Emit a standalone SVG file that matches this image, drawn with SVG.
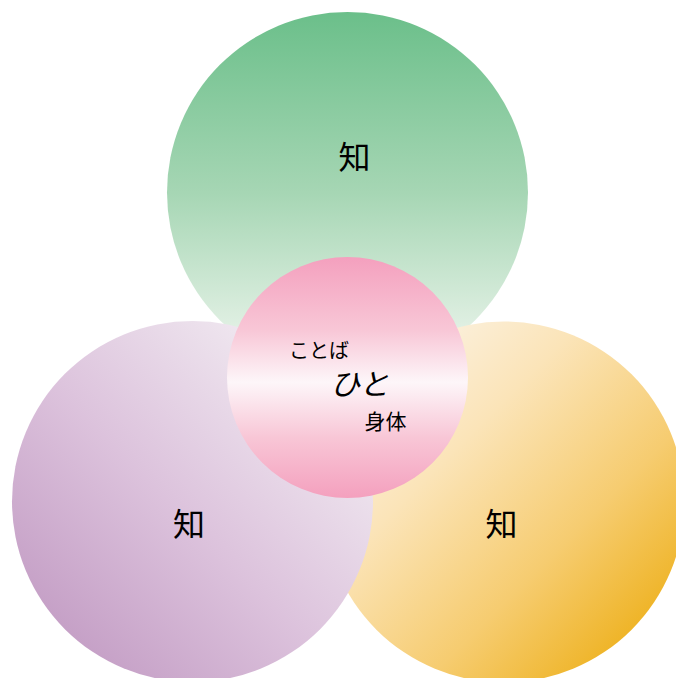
<svg xmlns="http://www.w3.org/2000/svg" width="676" height="678" viewBox="0 0 676 678">
<style>
.t{font-family:"Noto Sans CJK JP","Noto Sans",sans-serif;fill:#000;text-anchor:middle}
</style>
<defs>
<linearGradient id="gGreen" x1="0" y1="0" x2="0" y2="1">
<stop offset="0" stop-color="#6bbf8a"/>
<stop offset="0.5" stop-color="#a6d6b4"/>
<stop offset="1" stop-color="#f3f8f2"/>
</linearGradient>
<linearGradient id="gPink" x1="0" y1="0" x2="0" y2="1">
<stop offset="0" stop-color="#f4a0be"/>
<stop offset="0.3" stop-color="#f8c6d6"/>
<stop offset="0.52" stop-color="#fdf6f9"/>
<stop offset="0.75" stop-color="#f8c6d6"/>
<stop offset="1" stop-color="#f4a0be"/>
</linearGradient>
<linearGradient id="gPurple" x1="0.15" y1="0.85" x2="0.85" y2="0.15">
<stop offset="0" stop-color="#c6a1c7"/>
<stop offset="0.45" stop-color="#dcc2dc"/>
<stop offset="1" stop-color="#f1eaf1"/>
</linearGradient>
<linearGradient id="gOrange" x1="0.15" y1="0.15" x2="0.85" y2="0.85">
<stop offset="0" stop-color="#fbf1df"/>
<stop offset="0.3" stop-color="#fbe4b8"/>
<stop offset="0.7" stop-color="#f6cc70"/>
<stop offset="1" stop-color="#efb52a"/>
</linearGradient>
</defs>
<g id="green">
<circle cx="347.5" cy="192.5" r="180.5" fill="url(#gGreen)"/>
<text class="t" x="354.5" y="169" font-size="32">知</text>
</g>
<g id="orange">
<circle cx="504" cy="502" r="180.5" fill="url(#gOrange)"/>
<text class="t" x="501.5" y="536" font-size="32">知</text>
</g>
<g id="purple">
<circle cx="192.5" cy="501.5" r="180.5" fill="url(#gPurple)"/>
<text class="t" x="189" y="536" font-size="32">知</text>
</g>
<g id="center">
<circle cx="347.5" cy="377.5" r="120.5" fill="url(#gPink)"/>
<text class="t" x="319" y="357.5" font-size="20">ことば</text>
<text class="t" x="359.5" y="395" font-size="30" font-style="italic">ひと</text>
<text class="t" x="385.5" y="429" font-size="21">身体</text>
</g>
<g id="connectors"/>
</svg>
